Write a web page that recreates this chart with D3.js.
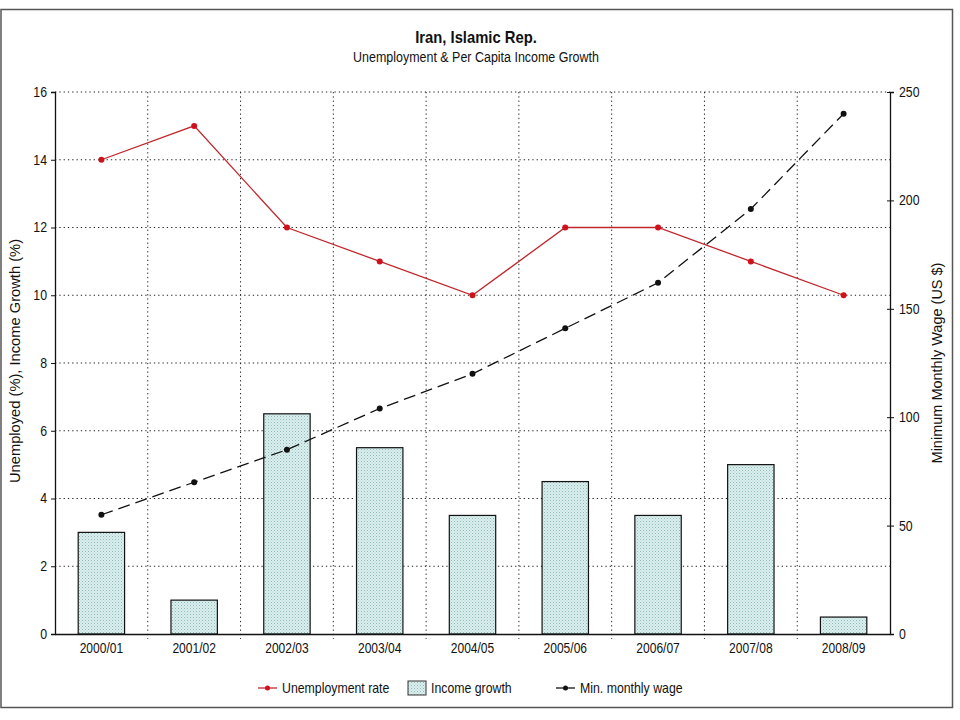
<!DOCTYPE html>
<html>
<head>
<meta charset="utf-8">
<script src="https://cdn.jsdelivr.net/npm/d3@7"></script>
<style>
  body { margin: 0; background: #fff; }
  svg text { font-family: "Liberation Sans", Arial, sans-serif; fill: #111; }
</style>
</head>
<body>
<div class="chart"></div>
<script>
// data
var years = ["2000/01", "2001/02", "2002/03", "2003/04", "2004/05", "2005/06", "2006/07", "2007/08", "2008/09"];
var unemployment = [14, 15, 12, 11, 10, 12, 12, 11, 10];
var incomeGrowth = [3, 1, 6.5, 5.5, 3.5, 4.5, 3.5, 5, 0.5];
var minWage = [55, 70, 85, 104, 120, 141, 162, 196, 240];
var leftTicks = [0, 2, 4, 6, 8, 10, 12, 14, 16];
var rightTicks = [0, 50, 100, 150, 200, 250];

var svgWidth = 960, svgHeight = 720;
var margin = { top: 92, right: 70, bottom: 86, left: 55 };
var width = svgWidth - margin.left - margin.right;
var height = svgHeight - margin.top - margin.bottom;

// squeeze text sideways to mimic a narrow font
function narrow(sel, s) {
  sel.each(function() {
    var t = d3.select(this);
    var tx = +t.attr("x") || 0, ty = +t.attr("y") || 0;
    t.attr("transform", `translate(${tx},${ty}) scale(${s},1) translate(${-tx},${-ty})`);
  });
}

var svg = d3.select(".chart").append("svg")
  .attr("width", svgWidth)
  .attr("height", svgHeight);

// dotted fill for the bars
var defs = svg.append("defs");
var pat = defs.append("pattern")
  .attr("id", "dots")
  .attr("width", 3).attr("height", 3)
  .attr("patternUnits", "userSpaceOnUse");
pat.append("rect").attr("width", 3).attr("height", 3).attr("fill", "#dcefef");
pat.append("rect").attr("width", 1).attr("height", 1).attr("fill", "#8fb8b8");
pat.append("rect").attr("x", 1.5).attr("y", 1.5).attr("width", 1).attr("height", 1).attr("fill", "#a9cccc");

// outer frame
svg.append("rect")
  .attr("x", 1).attr("y", 9.5)
  .attr("width", 951.5).attr("height", 698)
  .attr("fill", "none")
  .attr("stroke", "#555")
  .attr("stroke-width", 1.5);

// titles
svg.append("text")
  .attr("x", 476).attr("y", 43)
  .attr("text-anchor", "middle")
  .style("font-size", "17px")
  .style("font-weight", "bold")
  .text("Iran, Islamic Rep.")
  .call(narrow, 0.87);

svg.append("text")
  .attr("x", 476).attr("y", 62)
  .attr("text-anchor", "middle")
  .style("font-size", "14px")
  .text("Unemployment & Per Capita Income Growth")
  .call(narrow, 0.89);

var chart = svg.append("g")
  .attr("transform", `translate(${margin.left}, ${margin.top})`);

var x = d3.scaleBand().domain(years).range([0, width]);
var y = d3.scaleLinear().domain([0, 16]).range([height, 0]);
var y2 = d3.scaleLinear().domain([0, 250]).range([height, 0]);

// grid
chart.append("g")
  .selectAll("line")
  .data(leftTicks.slice(1))
  .enter().append("line")
  .attr("x1", 0).attr("x2", width)
  .attr("y1", function(d) { return y(d); })
  .attr("y2", function(d) { return y(d); })
  .attr("stroke", "#222")
  .attr("stroke-dasharray", "1.3,3");

chart.append("g")
  .selectAll("line")
  .data(years.slice(1))
  .enter().append("line")
  .attr("x1", function(d) { return x(d); })
  .attr("x2", function(d) { return x(d); })
  .attr("y1", 0).attr("y2", height + 5)
  .attr("stroke", "#222")
  .attr("stroke-dasharray", "1.3,3");

// bars
chart.selectAll(".bar")
  .data(incomeGrowth)
  .enter().append("rect")
  .attr("class", "bar")
  .attr("x", function(d, i) { return x(years[i]) + x.bandwidth() / 4; })
  .attr("y", function(d) { return y(d); })
  .attr("width", x.bandwidth() / 2)
  .attr("height", function(d) { return height - y(d); })
  .attr("fill", "url(#dots)")
  .attr("stroke", "#111")
  .attr("stroke-width", 1.2);

// unemployment line
var cx = function(d, i) { return x(years[i]) + x.bandwidth() / 2; };

chart.append("path")
  .datum(unemployment)
  .attr("fill", "none")
  .attr("stroke", "#c0272d")
  .attr("stroke-width", 1.3)
  .attr("d", d3.line().x(cx).y(function(d) { return y(d); }));

chart.selectAll(".udot")
  .data(unemployment)
  .enter().append("circle")
  .attr("class", "udot")
  .attr("cx", cx)
  .attr("cy", function(d) { return y(d); })
  .attr("r", 3)
  .attr("fill", "#d0101a");

// wage line
chart.append("path")
  .datum(minWage)
  .attr("fill", "none")
  .attr("stroke", "#111")
  .attr("stroke-width", 1.3)
  .attr("stroke-dasharray", "12,6")
  .attr("d", d3.line().x(cx).y(function(d) { return y2(d); }));

chart.selectAll(".wdot")
  .data(minWage)
  .enter().append("circle")
  .attr("class", "wdot")
  .attr("cx", cx)
  .attr("cy", function(d) { return y2(d); })
  .attr("r", 3)
  .attr("fill", "#111");

// axes
var xAxis = chart.append("g")
  .attr("transform", `translate(0,${height})`)
  .call(d3.axisBottom(x).tickSize(0).tickPadding(9));
xAxis.selectAll("text").style("font-size", "14px").call(narrow, 0.86);

var yAxis = chart.append("g")
  .call(d3.axisLeft(y).tickValues(leftTicks).tickSize(4).tickPadding(4));
yAxis.selectAll("text").style("font-size", "14px").call(narrow, 0.88);

var yAxis2 = chart.append("g")
  .attr("transform", `translate(${width},0)`)
  .call(d3.axisRight(y2).tickValues(rightTicks).tickSize(4).tickPadding(5));
yAxis2.selectAll("text").style("font-size", "14px").call(narrow, 0.88);
yAxis2.selectAll(".tick line").attr("x1", -3);

chart.selectAll(".domain").attr("stroke", "#111").attr("stroke-width", 1.3);
chart.selectAll(".tick line").attr("stroke", "#111");

// axis titles
svg.append("text")
  .attr("transform", "rotate(-90)")
  .attr("x", -(margin.top + height / 2) + 2)
  .attr("y", 20)
  .attr("text-anchor", "middle")
  .style("font-size", "14.7px")
  .text("Unemployed (%), Income Growth (%)");

svg.append("text")
  .attr("transform", "rotate(-90)")
  .attr("x", -(margin.top + height / 2))
  .attr("y", 942)
  .attr("text-anchor", "middle")
  .style("font-size", "14.5px")
  .text("Minimum Monthly Wage (US $)");

// legend
var legend = svg.append("g").attr("transform", "translate(0,688)");

legend.append("line")
  .attr("x1", 258).attr("x2", 277).attr("y1", 0).attr("y2", 0)
  .attr("stroke", "#c0272d").attr("stroke-width", 1.3);
legend.append("circle").attr("cx", 267.5).attr("cy", 0).attr("r", 2.5).attr("fill", "#d0101a");
legend.append("text").attr("x", 282).attr("y", 5).style("font-size", "14px").text("Unemployment rate").call(narrow, 0.88);

legend.append("rect")
  .attr("x", 408).attr("y", -7).attr("width", 18).attr("height", 14)
  .attr("fill", "url(#dots)").attr("stroke", "#333");
legend.append("text").attr("x", 431).attr("y", 5).style("font-size", "14px").text("Income growth").call(narrow, 0.88);

legend.append("line")
  .attr("x1", 556).attr("x2", 575).attr("y1", 0).attr("y2", 0)
  .attr("stroke", "#111").attr("stroke-width", 1.3);
legend.append("circle").attr("cx", 565.5).attr("cy", 0).attr("r", 2.5).attr("fill", "#111");
legend.append("text").attr("x", 580).attr("y", 5).style("font-size", "14px").text("Min. monthly wage").call(narrow, 0.88);
</script>
</body>
</html>
